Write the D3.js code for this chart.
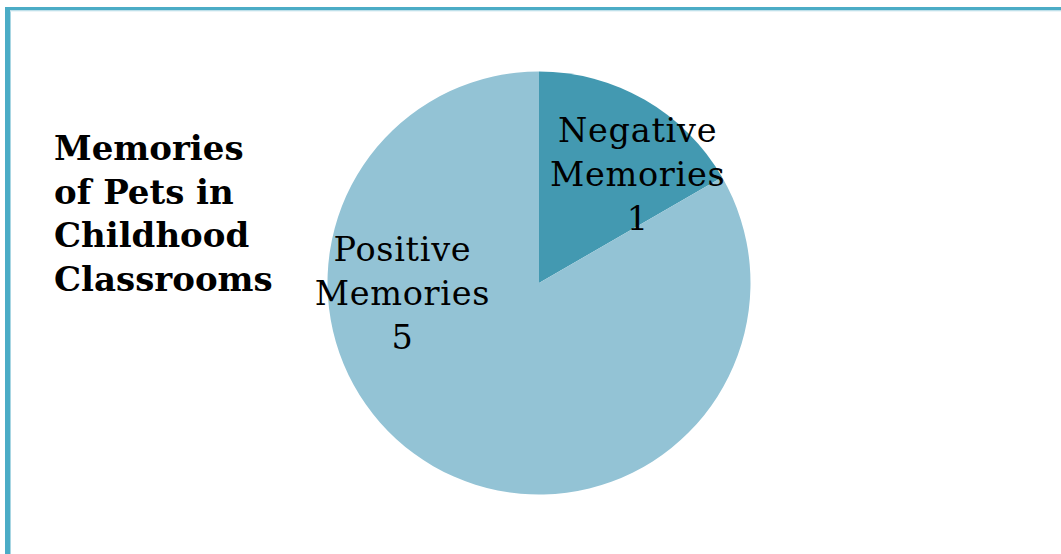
<!DOCTYPE html>
<html>
<head>
<meta charset="utf-8">
<script src="https://cdn.jsdelivr.net/npm/d3@7"></script>
<style>
  html, body { margin: 0; padding: 0; background: #fff; }
  svg { display: block; }
</style>
</head>
<body>
<svg id="chart" width="1061" height="554"></svg>
<script>
// Slice data
const categories = ["Negative Memories", "Positive Memories"];
const values = [1, 5];
const colors = ["#4399B1", "#93C3D5"];
const titleLines = ["Memories", "of Pets in", "Childhood", "Classrooms"];

const W = 1061, H = 554;
const svg = d3.select("#chart");

// Frame: teal rule along the top and left edges
const frameColor = "#4BACC6";
svg.append("rect").attr("x", 5).attr("y", 7).attr("width", W - 5).attr("height", 3.5).attr("fill", frameColor);
svg.append("rect").attr("x", 5).attr("y", 7).attr("width", 5).attr("height", H - 7).attr("fill", frameColor);
svg.append("rect").attr("x", 10).attr("y", 10.5).attr("width", 1).attr("height", H).attr("fill", "#A8D6E3");
svg.append("rect").attr("x", 10).attr("y", 10.5).attr("width", W).attr("height", 1).attr("fill", "#D8ECF2");

// Title
const title = svg.append("text")
  .attr("font-family", "'DejaVu Serif', serif")
  .attr("font-weight", "bold")
  .attr("font-size", 34)
  .attr("fill", "#000");
titleLines.forEach((t, i) => {
  title.append("tspan").attr("x", 54).attr("y", 160 + i * 43.5).text(t);
});

// Pie
const cx = 539, cy = 283, r = 211.5;
const pie = d3.pie().sort(null).value(d => d.value).startAngle(0);
const arcs = pie(categories.map((c, i) => ({ name: c, value: values[i] })));
const arc = d3.arc().innerRadius(0).outerRadius(r);

const g = svg.append("g").attr("transform", `translate(${cx},${cy})`);
g.selectAll("path.slice")
  .data(arcs)
  .join("path")
  .attr("class", "slice")
  .attr("d", arc)
  .attr("fill", (d, i) => colors[i]);

// Label placement: polar offset (angle from 12 o'clock, radius) for each slice
const labelPolar = [
  { angle: 42.5, radius: 146 },
  { angle: 265.5, radius: 137 }
];

arcs.forEach((d, i) => {
  const p = labelPolar[i];
  const a = p.angle * Math.PI / 180;
  const lx = Math.sin(a) * p.radius;
  const ly = -Math.cos(a) * p.radius;
  const words = d.data.name.split(" ");
  const lines = [...words, String(d.data.value)];
  const t = g.append("text")
    .attr("text-anchor", "middle")
    .attr("font-family", "'DejaVu Serif', serif")
    .attr("font-size", 33.5)
    .attr("letter-spacing", 0.7)
    .attr("fill", "#000");
  lines.forEach((ln, k) => {
    t.append("tspan")
      .attr("x", lx)
      .attr("y", ly + (k - 1) * 44 + 11)
      .text(ln);
  });
});
</script>
</body>
</html>
